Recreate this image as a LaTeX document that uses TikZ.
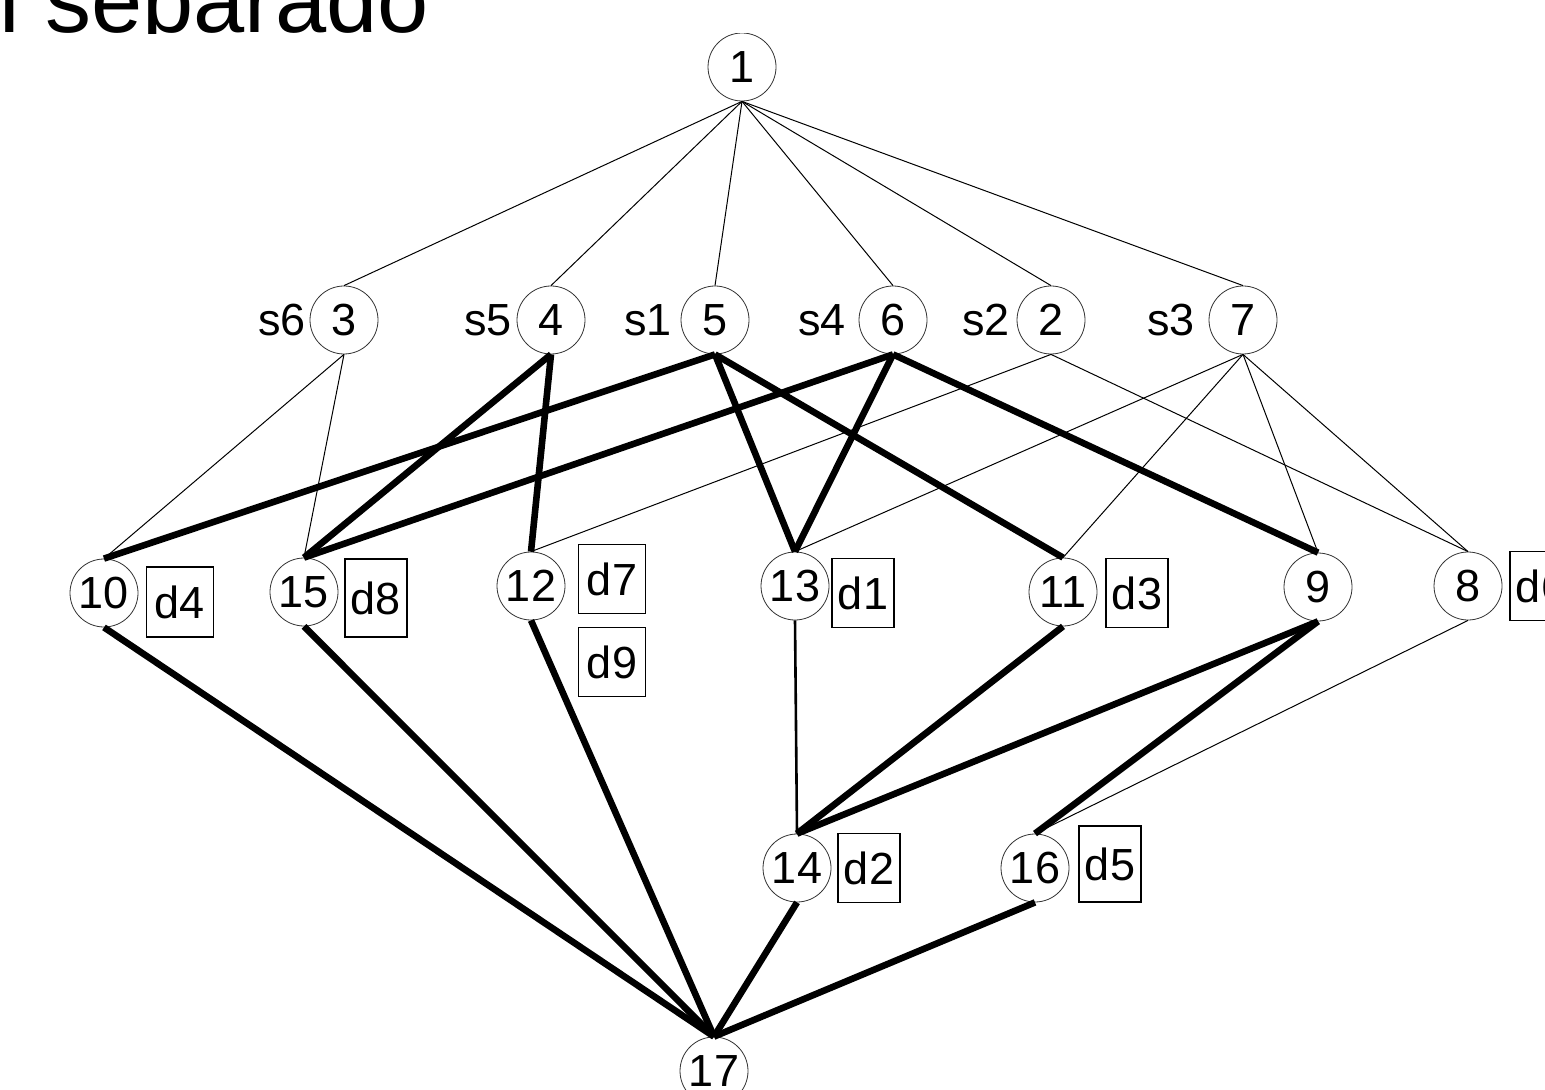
\documentclass[tikz,border=0pt]{standalone}
\usepackage{fontspec}
\setmainfont{Liberation Sans}
\begin{document}
\begin{tikzpicture}[x=0.5pt,y=-0.5pt]
        \useasboundingbox (0,0) rectangle (1545,1090);
        \clip (0,0) rectangle (1545,1090);

        \begin{scope}[every node/.style={circle, draw=black!80, line width=0.4pt, fill=white, inner sep=0pt, minimum size=34pt, font=\fontsize{22.5}{27}\selectfont}]
          \node (1)  at (742,67)   {1};
          \node (3)  at (344,320)  {3};
          \node (4)  at (551,320)  {4};
          \node (5)  at (715,320)  {5};
          \node (6)  at (893,320)  {6};
          \node (2)  at (1051,320) {2};
          \node (7)  at (1243,320) {7};
          \node (10) at (104,593)  {10};
          \node (15) at (304,592)  {15};
          \node (12) at (531,586)  {12};
          \node (13) at (795,586)  {13};
          \node (11) at (1063,592) {11};
          \node (9)  at (1318,587) {9};
          \node (8)  at (1468,586) {8};
          \node (14) at (797,868)  {14};
          \node (16) at (1035,868) {16};
          \node (17) at (714,1071) {17};
        \end{scope}

        \begin{scope}[every node/.style={inner sep=0pt, font=\fontsize{22.5}{27}\selectfont}]
          \node (s6) at (282,320)  {s6};
          \node (s5) at (488,320)  {s5};
          \node (s1) at (648,320)  {s1};
          \node (s4) at (822,320)  {s4};
          \node (s2) at (986,320)  {s2};
          \node (s3) at (1171,320) {s3};
        \end{scope}

        \begin{scope}[every node/.style={draw, line width=0.6pt, inner sep=0pt, minimum width=31pt, minimum height=34.5pt, font=\fontsize{22.5}{27}\selectfont}]
          \node (d4) at (180,602)  [minimum width=33.5pt, minimum height=35pt] {d4};
          \node (d8) at (376,598)  [minimum height=39pt] {d8};
          \node (d7) at (612,579)  [minimum width=33.5pt] {d7};
          \node (d9) at (612,662)  [minimum width=33.5pt] {d9};
          \node (d1) at (863,593)  {d1};
          \node (d3) at (1137,593) {d3};
          \node (d6) at (1541,586) {d6};
          \node (d2) at (869,868)  {d2};
          \node (d5) at (1110,864) [minimum height=38pt] {d5};
        \end{scope}

        % title strip, cut off at the top
        \fill[white] (0,0) rectangle (1545,33);
        \begin{scope}
          \clip (-10,0) rectangle (520,34);
          \node[anchor=base west, inner sep=0, font=\fontsize{46}{52}\selectfont] (title) at (-1,33) {l separado};
        \end{scope}

        \begin{scope}[every edge/.style={draw, line width=0.5pt}]
          \path (1.south) edge (3.north);
          \path (1.south) edge (4.north);
          \path (1.south) edge (5.north);
          \path (1.south) edge (6.north);
          \path (1.south) edge (2.north);
          \path (1.south) edge (7.north);
          \path (3.south) edge (10.north);
          \path (3.south) edge (15.north);
          \path (2.south) edge (12.north);
          \path (2.south) edge (8.north);
          \path (7.south) edge (13.north);
          \path (7.south) edge (11.north);
          \path (7.south) edge (9.north);
          \path (7.south) edge (8.north);
          \path (8.south) edge (16.north);
        \end{scope}

        \begin{scope}[every edge/.style={draw, line width=3.3pt}]
          \path (4.south) edge (15.north);
          \path (4.south) edge (12.north);
          \path (5.south) edge (10.north);
          \path (5.south) edge (13.north);
          \path (5.south) edge (11.north);
          \path (6.south) edge (15.north);
          \path (6.south) edge (13.north);
          \path (6.south) edge (9.north);
          \path (10.south) edge (17.north);
          \path (15.south) edge (17.north);
          \path (12.south) edge (17.north);
          \path (11.south) edge (14.north);
          \path (9.south) edge (14.north);
          \path (9.south) edge (16.north);
          \path (14.south) edge (17.north);
          \path (16.south) edge (17.north);
        \end{scope}

        \path (13.south) edge[draw, line width=1.3pt] (14.north);

      \end{tikzpicture}
\end{document}
